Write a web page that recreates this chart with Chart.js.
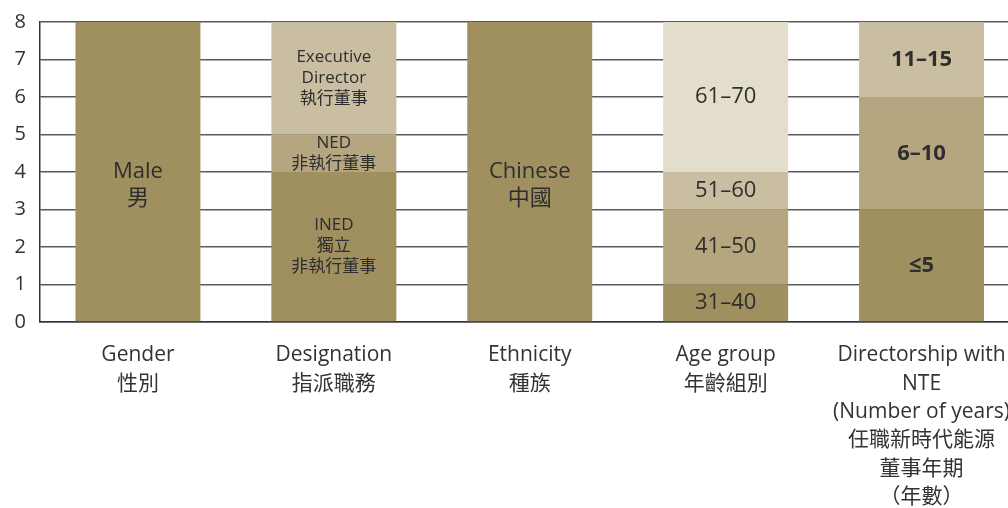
<!DOCTYPE html>
<html>
<head>
<meta charset="utf-8">
<script src="https://cdn.jsdelivr.net/npm/chart.js@4/dist/chart.umd.min.js"></script>
<style>
    html, body { margin: 0; padding: 0; background: #fff; overflow: hidden; }
    #wrap { width: 1030px; height: 508px; }
</style>
</head>
<body>
<div id="wrap"><canvas id="boardChart"></canvas></div>
<script>
// categories along the x axis
var categories = [
    ['Gender', '性別'],
    ['Designation', '指派職務'],
    ['Ethnicity', '種族'],
    ['Age group', '年齡組別'],
    ['Directorship with', 'NTE', '(Number of years)', '任職新時代能源', '董事年期', '（年數）']
];

// stacked tiers, bottom to top (number of directors)
var tier1 = [8, 4, 8, 1, 3];
var tier2 = [0, 1, 0, 2, 3];
var tier3 = [0, 3, 0, 1, 2];
var tier4 = [0, 0, 0, 4, 0];

var tier1Labels = [['Male', '男'], ['INED', '獨立', '非執行董事'], ['Chinese', '中國'], ['31–40'], ['≤5']];
var tier2Labels = [[], ['NED', '非執行董事'], [], ['41–50'], ['6–10']];
var tier3Labels = [[], ['Executive', 'Director', '執行董事'], [], ['51–60'], ['11–15']];
var tier4Labels = [[], [], [], ['61–70'], []];

var yTicks = [0, 1, 2, 3, 4, 5, 6, 7, 8];

var FONT = "'Open Sans', 'Noto Sans CJK TC', sans-serif";
var colours = ['#a08f5f', '#b5a680', '#c9bea1', '#e3ddcc'];
var segLabels = [tier1Labels, tier2Labels, tier3Labels, tier4Labels];

// text inside each bar segment
var segmentText = {
    id: 'segmentText',
    afterDatasetsDraw: function (chart) {
        var ctx = chart.ctx;
        ctx.save();
        ctx.fillStyle = '#2e2e2e';
        ctx.textAlign = 'center';
        ctx.textBaseline = 'middle';
        chart.data.datasets.forEach(function (ds, i) {
            var meta = chart.getDatasetMeta(i);
            meta.data.forEach(function (bar, j) {
                var lines = segLabels[i][j];
                if (!lines || !lines.length || !ds.data[j]) return;
                var size = 22, lh = 27, weight = 'normal';
                if (j === 1) { size = 17; lh = 21; }
                if (j === 4) { weight = 'bold'; }
                ctx.font = weight + ' ' + size + 'px ' + FONT;
                var mid = (bar.y + bar.base) / 2;
                var start = mid - (lines.length - 1) * lh / 2;
                // single full-height bars put the first line on the middle
                if (j === 0 || j === 2) start = mid;
                lines.forEach(function (t, k) {
                    ctx.fillText(t, bar.x, start + k * lh);
                });
            });
        });
        ctx.restore();
    }
};

var datasets = [tier1, tier2, tier3, tier4].map(function (d, i) {
    return {
        data: d,
        backgroundColor: colours[i],
        borderWidth: 0,
        barPercentage: 1,
        categoryPercentage: 0.638
    };
});

new Chart(document.getElementById('boardChart'), {
    type: 'bar',
    data: { labels: categories, datasets: datasets },
    plugins: [segmentText],
    options: {
        responsive: true,
        maintainAspectRatio: false,
        animation: false,
        layout: { padding: { top: 22, right: 10 } },
        plugins: { legend: { display: false }, tooltip: { enabled: false } },
        scales: {
            x: {
                stacked: true,
                grid: { display: false, drawTicks: false },
                border: { display: true, color: '#333', width: 1.5 },
                ticks: {
                    color: '#333',
                    padding: 19,
                    maxRotation: 0,
                    autoSkip: false,
                    font: { family: FONT, size: 21, lineHeight: 1.35 }
                },
                afterFit: function (scale) { scale.height = 186; }
            },
            y: {
                stacked: true,
                min: 0,
                max: 8,
                afterBuildTicks: function (scale) {
                    scale.ticks = yTicks.map(function (v) { return { value: v }; });
                },
                grid: { color: '#5a5a5a', lineWidth: 1.5, drawTicks: false },
                border: { display: true, color: '#333', width: 1.5 },
                ticks: {
                    color: '#333',
                    padding: 14,
                    font: { family: FONT, size: 20 }
                },
                afterFit: function (scale) {
                    scale.width = 40;
                    scale.paddingTop = 0;
                    scale.paddingBottom = 0;
                }
            }
        }
    }
});
</script>
</body>
</html>
